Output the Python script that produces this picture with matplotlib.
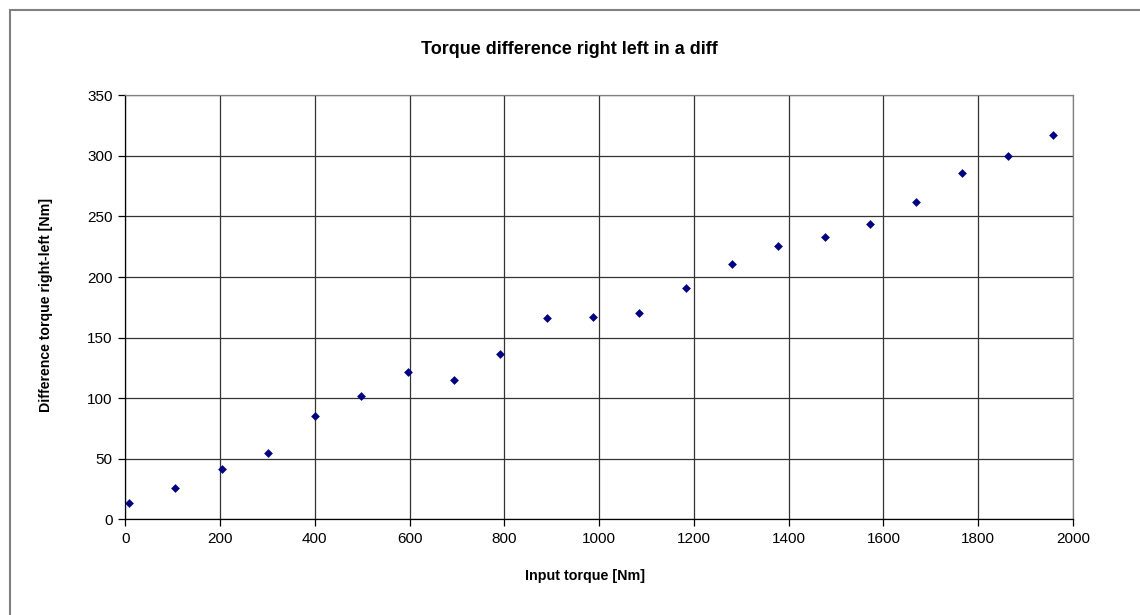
import matplotlib
matplotlib.use("Agg")
import matplotlib.pyplot as plt
from matplotlib.patches import Rectangle

plt.rcParams['font.family'] = ['Liberation Sans', 'DejaVu Sans']

# Measured torque difference between right and left output of a differential
input_torque = [7, 105, 204, 302, 400, 497, 596, 694, 791, 890, 987,
                1085, 1184, 1281, 1377, 1476, 1571, 1669, 1766, 1862, 1957]
torque_diff = [13.7, 25.6, 41.8, 55.0, 85.5, 101.8, 121.3, 115.0, 136.5, 165.9, 167.3,
               170.6, 191.2, 211.0, 225.3, 233.0, 244.0, 261.7, 285.9, 300.2, 317.2]

x_ticks = [0, 200, 400, 600, 800, 1000, 1200, 1400, 1600, 1800, 2000]
y_ticks = [0, 50, 100, 150, 200, 250, 300, 350]

W, H = 1140, 615
fig = plt.figure(figsize=(W / 100, H / 100), dpi=100)
fig.patch.set_facecolor('white')

# chart frame
fig.patches.append(Rectangle((10 / W, -0.05), 1.2, 1 - 10 / H + 0.05,
                             transform=fig.transFigure, fill=False,
                             edgecolor='#808080', linewidth=1.5))

ax = fig.add_axes([125.3 / W, 1 - 519.3 / H, (1073 - 125.3) / W, (519.3 - 95.3) / H])
ax.scatter(input_torque, torque_diff, marker='D', s=20, color='#000080',
           zorder=3, linewidths=0)

ax.set_xlim(0, 2000)
ax.set_ylim(0, 350)
ax.set_xticks(x_ticks)
ax.set_yticks(y_ticks)
ax.grid(True, color='#333333', linewidth=0.9)
ax.set_axisbelow(True)
for side in ('top', 'right'):
    ax.spines[side].set_color('#808080')
    ax.spines[side].set_linewidth(0.9)
for side in ('left', 'bottom'):
    ax.spines[side].set_color('#000000')
    ax.spines[side].set_linewidth(0.9)
ax.tick_params(direction='out', length=5, width=0.9, color='#000000',
               labelsize=11, pad=4)

fig.text(569 / W, 1 - 49 / H, 'Torque difference right left in a diff',
         ha='center', va='center', fontsize=13, fontweight='bold')
fig.text(585 / W, 1 - 576 / H, 'Input torque [Nm]', ha='center', va='center',
         fontsize=10.3, fontweight='bold')
fig.text(46 / W, 1 - 305 / H, 'Difference torque right-left [Nm]', ha='center',
         va='center', rotation=90, fontsize=10.2, fontweight='bold')

fig.savefig('out.png', dpi=100, facecolor='white')
